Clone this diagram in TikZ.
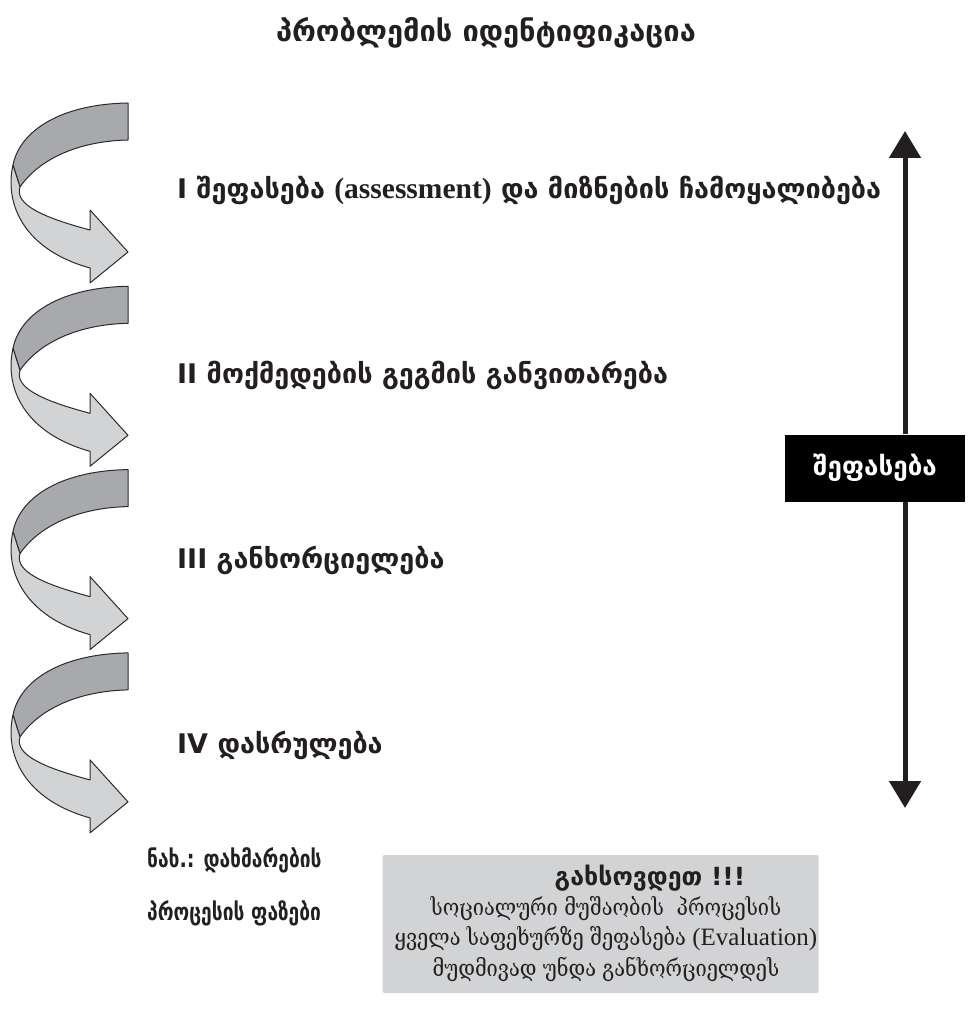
\documentclass[tikz,border=0pt]{standalone}
\usepackage{fontspec}
\usetikzlibrary{arrows.meta}
\newfontfamily\geo{DejaVu Sans}
\newfontfamily\geonarrow{DejaVu Sans}[FakeStretch=0.8]
\newfontfamily\geoserif{DejaVu Serif}[FakeStretch=0.87]
\newfontfamily\tms{Liberation Serif}
\definecolor{bandDark}{HTML}{A7A9AC}
\definecolor{bandLight}{HTML}{D1D3D4}
\definecolor{boxGray}{HTML}{D1D3D4}
\definecolor{inkGray}{HTML}{231F20}
\definecolor{edgeGray}{HTML}{2B2B2B}
\tikzset{
  band/.style={draw=edgeGray, line width=1pt, line join=round},
  headtxt/.style={font=\geo\bfseries\fontsize{29}{33}\selectfont, text=inkGray, inner sep=0pt},
  phasetxt/.style={font=\geo\bfseries\fontsize{27}{31}\selectfont, text=inkGray, inner sep=0pt, anchor=west},
  captxt/.style={font=\geonarrow\bfseries\fontsize{24}{28}\selectfont, text=inkGray, inner sep=0pt, anchor=west},
  evalbox/.style={fill=black, text=white, font=\geo\bfseries\fontsize{26}{30}\selectfont, minimum width=180pt, minimum height=67pt, inner sep=0pt},
  notebox/.style={fill=boxGray, rounded corners=2pt, minimum width=436pt, minimum height=138pt, inner sep=0pt},
  boxtxt/.style={font=\geoserif\fontsize{23}{30.5}\selectfont, text=inkGray, align=center, inner sep=0pt},
  bigarrow/.style={line width=5pt, draw=inkGray}
}
\begin{document}
\begin{tikzpicture}[x=1pt,y=-1pt]
\useasboundingbox (0,0) rectangle (969,1011);
% title
\node[headtxt] (title) at (486,33) {პრობლემის იდენტიფიკაცია};
% curved arrows
\foreach \k in {0,1,2,3}{
  \begin{scope}[shift={(0,183.3*\k)}]
    \draw[band, fill=bandDark] (128,103) .. controls (62,104) and (20,130) .. (13,165)
       -- (20,187) .. controls (40,158) and (80,141) .. (128,140) -- cycle;
    \draw[band, fill=bandLight] (13,165) .. controls (4,205) and (25,250) .. (90,268)
       -- (90,283) -- (128,252) -- (90,210) -- (90,230)
       .. controls (45,218) and (14,205) .. (20,187) -- cycle;
  \end{scope}
}
% phases
\node[phasetxt] (p1) at (177,190) {I შეფასება {\tms\bfseries\fontsize{29.5}{33}\selectfont (assessment)} და მიზნების ჩამოყალიბება};
\node[phasetxt] (p2) at (177,375) {II მოქმედების გეგმის განვითარება};
\node[phasetxt] (p3) at (177,560) {III განხორციელება};
\node[phasetxt] (p4) at (177,745) {IV დასრულება};
% evaluation axis
\node[evalbox] (eval) at (875,468) {შეფასება};
\coordinate (topTip) at (905,131);
\coordinate (botTip) at (905,808);
\draw[bigarrow, -{Triangle[width=31pt,length=27pt]}] (eval.north -| topTip) -- (topTip);
\draw[bigarrow, -{Triangle[width=31pt,length=27pt]}] (eval.south -| botTip) -- (botTip);
% caption
\node[captxt] (cap1) at (147,860) {ნახ.: დახმარების};
\node[captxt] (cap2) at (147,913) {პროცესის ფაზები};
% note box
\node[notebox] (note) at (600.5,924) {};
\node[boxtxt, font=\geo\bfseries\fontsize{25}{28}\selectfont] (noteHead) at (650,878) {გახსოვდეთ !!!};
\node[boxtxt] (noteBody) at (606,939) {სოციალური მუშაობის \ პროცესის\\ყველა საფეხურზე შეფასება {\tms\fontsize{25}{30}\selectfont (Evaluation)}\\მუდმივად უნდა განხორციელდეს};
\end{tikzpicture}
\end{document}
